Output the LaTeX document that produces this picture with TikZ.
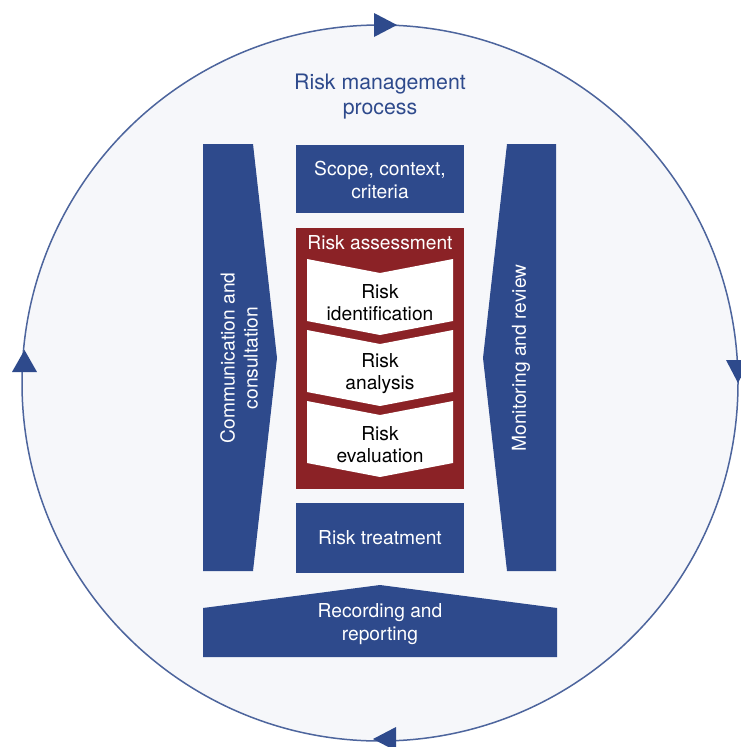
\documentclass[tikz,border=0pt]{standalone}
\usepackage{fontspec}
\setmainfont{TeX Gyre Heros}
\definecolor{rmblue}{RGB}{46,74,140}
\definecolor{rmred}{RGB}{139,34,38}
\definecolor{rmback}{RGB}{246,247,250}
\begin{document}
\begin{tikzpicture}[x=1pt,y=-1pt,
		boxtext/.style={text=white,align=center,font=\fontsize{19.2}{23}\selectfont},
		steptext/.style={text=black,align=center,font=\fontsize{19.2}{22}\selectfont}]
	\useasboundingbox (0,0) rectangle (740,747);
	\fill[white] (0,0) rectangle (740,747);
	\coordinate (C) at (380,383);
	\filldraw[fill=rmback,draw=rmblue!85,line width=1.5pt] (C) circle[radius=358];
	\fill[rmblue] (374,13) -- (397,25) -- (374,37) -- cycle;
	\fill[rmblue] (726,360) -- (750,360) -- (738,383) -- cycle;
	\fill[rmblue] (396,727) -- (373,739) -- (396,751) -- cycle;
	\fill[rmblue] (12,372) -- (24.5,350) -- (37,372) -- cycle;
	\node[text=rmblue,align=center,font=\fontsize{21.3}{25}\selectfont] (title) at (380,97) {Risk management\\process};

	\fill[rmblue] (203,144) -- (253,144) -- (277,358) -- (253,571) -- (203,571) -- cycle;
	\node[boxtext,rotate=90] (comm) at (239,358) {Communication and\\consultation};
	\fill[rmblue] (507,144) -- (556,144) -- (556,571) -- (507,571) -- (483,358) -- cycle;
	\node[boxtext,rotate=90] (monitor) at (521,358) {Monitoring and review};

	\fill[rmblue] (296,145) rectangle (464,213);
	\node[boxtext] (scope) at (380,180) {Scope, context,\\criteria};
	\fill[rmred] (296,228) rectangle (464,489);
	\node[boxtext] (assess) at (380,243) {Risk assessment};
	\foreach \t/\name/\txt in {259/ident/{Risk\\identification},330/analysis/{Risk\\analysis},401/evaluation/{Risk\\evaluation}}{
		\fill[white] (307,\t) -- (380,\t+14) -- (453,\t) -- (453,\t+62) -- (380,\t+76) -- (307,\t+62) -- cycle;
		\node[steptext] (\name) at (380,\t+44) {\txt};
	}
	\fill[rmblue] (296,503) rectangle (464,573);
	\node[boxtext] (treat) at (380,538) {Risk treatment};

	\fill[rmblue] (203,608) -- (380,585) -- (557,608) -- (557,657) -- (203,657) -- cycle;
	\node[boxtext] (record) at (380,624) {Recording and\\reporting};
\end{tikzpicture}
\end{document}
